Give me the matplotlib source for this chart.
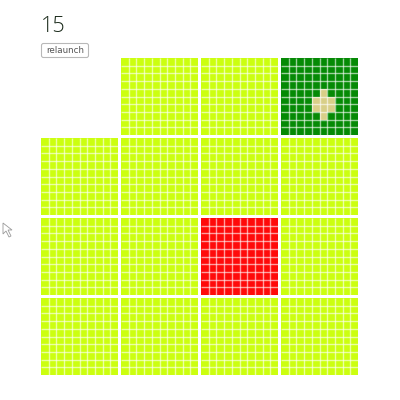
import matplotlib
matplotlib.use("Agg")
import matplotlib.pyplot as plt
import numpy as np
from matplotlib.patches import FancyBboxPatch, Polygon, Rectangle

# ---- data ----
generation_label = "15"
button_label = "relaunch"
# block layout (row-major, top to bottom); None = empty block
block_states = [
    [None, "lime", "lime", "green"],
    ["lime", "lime", "lime", "lime"],
    ["lime", "lime", "red", "lime"],
    ["lime", "lime", "lime", "lime"],
]
cells_per_block = 10
# highlighted cells inside the green block (row, col)
tan_cells = [(4, 5), (5, 4), (5, 5), (5, 6), (6, 4), (6, 5), (6, 6), (7, 5)]

state_colors = {"lime": "#ccff10", "green": "#058a05", "red": "#ff0a0a", "tan": "#d8cf88"}

# ---- figure ----
fig = plt.figure(figsize=(4, 4), dpi=100)
ax = fig.add_axes([0, 0, 1, 1])
ax.set_xlim(0, 400)
ax.set_ylim(400, 0)
ax.axis("off")

x0, y0 = 41, 58
pitch = 80
bsize = 77
cp = bsize / cells_per_block

for r, row in enumerate(block_states):
    for c, st in enumerate(row):
        if st is None:
            continue
        bx = x0 + c * pitch
        by = y0 + r * pitch
        ax.add_patch(Rectangle((bx, by), bsize, bsize, facecolor=state_colors[st],
                               edgecolor="none", antialiased=False))
        if st == "green":
            for (i, j) in tan_cells:
                ax.add_patch(Rectangle((bx + j * cp, by + i * cp), cp, cp,
                                       facecolor=state_colors["tan"], edgecolor="none"))
        inner = bx + np.arange(1, cells_per_block) * cp
        ax.vlines(inner, by, by + bsize, colors=(1, 1, 1, 0.6), linewidth=1.0)
        inner_y = by + np.arange(1, cells_per_block) * cp
        ax.hlines(inner_y, bx, bx + bsize, colors=(1, 1, 1, 0.6), linewidth=1.0)

# generation counter
ax.text(41, 26.5, generation_label, fontsize=15.5, color="#1a2a1a",
        family="Open Sans", fontweight="light", va="center", ha="left")

# relaunch button
btn = FancyBboxPatch((41.5, 43.5), 47, 14, boxstyle="round,pad=0,rounding_size=2",
                     facecolor="#ffffff", edgecolor="#b8b8b8", linewidth=0.8)
ax.add_patch(btn)
ax.text(65, 50.5, button_label, fontsize=6.3, color="#555555",
        family="DejaVu Sans", va="center", ha="center")

# mouse cursor artifact
cursor = Polygon([(3, 223), (3, 234), (6, 231), (9, 237), (11, 236), (8, 230), (12, 230)],
                 closed=True, facecolor="white", edgecolor="#999999", linewidth=0.6)
ax.add_patch(cursor)

fig.savefig("out.png", dpi=100, facecolor="white")
